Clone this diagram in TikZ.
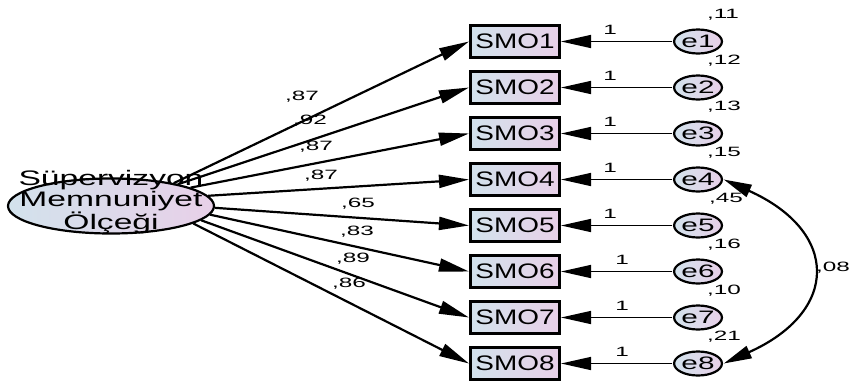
\documentclass[tikz,border=0pt]{standalone}
\usepackage{fontspec}
\setmainfont{Liberation Sans}
\usetikzlibrary{arrows.meta,shapes.geometric}
\definecolor{ShadeL}{RGB}{210,226,236}
\definecolor{ShadeR}{RGB}{232,208,232}

\begin{document}
\begin{tikzpicture}[x=1pt,y=-1pt,
  latent/.style={ellipse, draw, line width=2.2pt, minimum width=206pt, minimum height=55pt, inner sep=0pt, left color=ShadeL, right color=ShadeR},
  latenttext/.style={align=center, inner sep=0pt, xscale=1.6, font=\fontsize{21}{20.5}\selectfont},
  item/.style={rectangle, draw, line width=2.2pt, minimum width=67pt, minimum height=32pt, inner sep=0pt, xscale=1.33, font=\fontsize{21}{21}\selectfont, left color=ShadeL, right color=ShadeR},
  err/.style={ellipse, draw, line width=2.2pt, minimum width=29pt, minimum height=24pt, inner sep=0pt, xscale=1.65, font=\fontsize{18}{18}\selectfont, left color=ShadeL, right color=ShadeR},
  lbl/.style={inner sep=0pt, xscale=1.8, font=\fontsize{13.5}{13.5}\selectfont},
  load/.style={line width=2.2pt, -{Triangle[length=30pt,width=13pt]}},
  fix/.style={line width=1.5pt, -{Triangle[length=30pt,width=13pt]}},
  cov/.style={line width=2.2pt, {Triangle[length=28pt,width=13pt]}-{Triangle[length=28pt,width=13pt]}}]
\useasboundingbox (0,0) rectangle (850,386);
%LATENT
\node[latent] (F) at (111,206) {};
\node[latenttext] (Ftext) at (111,202) {Süpervizyon\\Memnuniyet\\Ölçeği};
%ITEMS
\node[item] (SMO1) at (515,41.5) {SMO1};
\node[item] (SMO2) at (515,87.5) {SMO2};
\node[item] (SMO3) at (515,133.5) {SMO3};
\node[item] (SMO4) at (515,179.5) {SMO4};
\node[item] (SMO5) at (515,225.5) {SMO5};
\node[item] (SMO6) at (515,271.5) {SMO6};
\node[item] (SMO7) at (515,317.5) {SMO7};
\node[item] (SMO8) at (515,363.5) {SMO8};
%ERRORS
\node[err] (e1) at (698,41.5) {e1};
\node[err] (e2) at (698,87.5) {e2};
\node[err] (e3) at (698,133.5) {e3};
\node[err] (e4) at (698,179.5) {e4};
\node[err] (e5) at (698,225.5) {e5};
\node[err] (e6) at (698,271.5) {e6};
\node[err] (e7) at (698,317.5) {e7};
\node[err] (e8) at (698,363.5) {e8};
% loadings
\draw[load] (F.20) -- (SMO1.west);
\draw[load] (F.18) -- (SMO2.west);
\draw[load] (F.13) -- (SMO3.west);
\draw[load] (F.6) -- (SMO4.west);
\draw[load] (F.-1) -- (SMO5.west);
\draw[load] (F.-5) -- (SMO6.west);
\draw[load] (F.-9) -- (SMO7.west);
\draw[load] (F.-12) -- (SMO8.west);
\node[lbl] (l1) at (302,97) {,87};
\node[lbl] (l2) at (310,121) {,92};
\node[lbl] (l3) at (316,147) {,87};
\node[lbl] (l4) at (321,176) {,87};
\node[lbl] (l5) at (358,204) {,65};
\node[lbl] (l6) at (357,232) {,83};
\node[lbl] (l7) at (353,259) {,89};
\node[lbl] (l8) at (349,284) {,86};
% error paths
\draw[fix] (e1.west) -- (SMO1.east);
\draw[fix] (e2.west) -- (SMO2.east);
\draw[fix] (e3.west) -- (SMO3.east);
\draw[fix] (e4.west) -- (SMO4.east);
\draw[fix] (e5.west) -- (SMO5.east);
\draw[fix] (e6.west) -- (SMO6.east);
\draw[fix] (e7.west) -- (SMO7.east);
\draw[fix] (e8.west) -- (SMO8.east);
\node[lbl] (w1) at (610,29.5) {1};
\node[lbl] (w2) at (610,75.5) {1};
\node[lbl] (w3) at (610,121.5) {1};
\node[lbl] (w4) at (610,167.5) {1};
\node[lbl] (w5) at (610,213.5) {1};
\node[lbl] (w6) at (622,259.5) {1};
\node[lbl] (w7) at (622,305.5) {1};
\node[lbl] (w8) at (622,351.5) {1};
% variances
\node[lbl] (v1) at (723,14.5) {,11};
\node[lbl] (v2) at (724,60.5) {,12};
\node[lbl] (v3) at (724,106.5) {,13};
\node[lbl] (v4) at (724,152.5) {,15};
\node[lbl] (v5) at (726,198.5) {,45};
\node[lbl] (v6) at (724,244.5) {,16};
\node[lbl] (v7) at (724,290.5) {,10};
\node[lbl] (v8) at (724,336.5) {,21};
% covariance
\draw[cov] (e4.east) .. controls +(116,52) and +(116,-52) .. (e8.east);
\node[lbl] (c48) at (833,268) {,08};
\end{tikzpicture}
\end{document}
